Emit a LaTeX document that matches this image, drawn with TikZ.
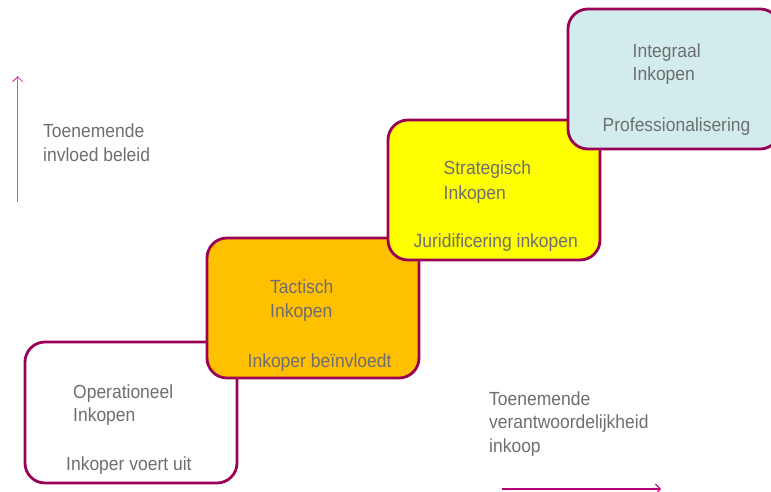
\documentclass[tikz,border=0pt]{standalone}
\usepackage{fontspec}
\setmainfont{Liberation Sans}[FakeStretch=0.92]
\usetikzlibrary{arrows.meta}
\definecolor{bordr}{RGB}{153,0,85}
\definecolor{txtgrey}{RGB}{110,110,110}
\definecolor{orangefill}{RGB}{255,192,0}
\definecolor{yellowfill}{RGB}{255,255,0}
\definecolor{cyanfill}{RGB}{210,236,238}
\definecolor{pinkarrow}{RGB}{232,70,160}
\definecolor{magarrow}{RGB}{180,0,115}
\tikzset{
  stagebox/.style={draw=bordr, line width=2.8pt, rounded corners=20pt},
  lbl/.style={anchor=base west, inner sep=0pt, text=txtgrey, font=\fontsize{19}{24.5}\selectfont, align=left},
  trendarrow/.style={line width=1.5pt, -{Straight Barb[length=5pt,width=10pt,line width=1pt]}}
}
\begin{document}
\begin{tikzpicture}[x=1pt,y=-1pt]
\useasboundingbox (0,0) rectangle (771,492);
\clip (0,0) rectangle (771,492);
% boxes
\draw[stagebox, fill=white] (25,342) rectangle (237,483);
\draw[stagebox, fill=orangefill] (207,238) rectangle (419,378);
\draw[stagebox, fill=yellowfill] (388,120) rectangle (600,260);
\draw[stagebox, fill=cyanfill] (568,9) rectangle (780,149);
% box texts
\node[lbl] (op1) at (73,398) {Operationeel};
\node[lbl] (op2) at (73,421.5) {Inkopen};
\node[lbl] (op3) at (66,470) {Inkoper voert uit};
\node[lbl] (ta1) at (270,293.5) {Tactisch};
\node[lbl] (ta2) at (270,317) {Inkopen};
\node[lbl] (ta3) at (247.5,367.5) {Inkoper beïnvloedt};
\node[lbl] (st1) at (443.5,175) {Strategisch};
\node[lbl] (st2) at (443.5,199) {Inkopen};
\node[lbl] (st3) at (413.5,247.5) {Juridificering inkopen};
\node[lbl] (in1) at (632.5,57.5) {Integraal};
\node[lbl] (in2) at (632.5,81) {Inkopen};
\node[lbl] (in3) at (602.5,131.5) {Professionalisering};
% side labels
\node[lbl] (lt1) at (43,137.5) {Toenemende};
\node[lbl] (lt2) at (43,161.5) {invloed beleid};
\node[lbl] (rt1) at (489,405) {Toenemende};
\node[lbl] (rt2) at (489,428.5) {verantwoordelijkheid};
\node[lbl] (rt3) at (489,452) {inkoop};
% arrows
\coordinate (upS) at (17.7,202);
\coordinate (upE) at (17.7,76);
\draw[trendarrow, pinkarrow] (upS) -- (upE);
\coordinate (rtS) at (501.5,489);
\coordinate (rtE) at (661,489);
\draw[trendarrow, magarrow] (rtS) -- (rtE);
\end{tikzpicture}
\end{document}
